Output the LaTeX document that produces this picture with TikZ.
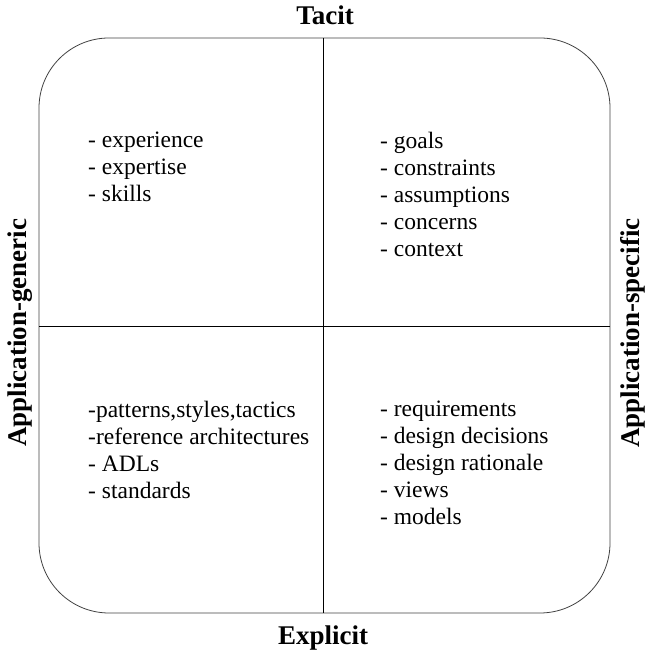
\documentclass[tikz,border=0pt]{standalone}
\usepackage{fontspec}
\setmainfont{Liberation Serif}
\begin{document}
\begin{tikzpicture}[x=1pt,y=1pt,
        item/.style={anchor=north west,align=left,inner sep=0pt,font=\fontsize{23.5}{27}\selectfont},
        axis/.style={font=\bfseries\fontsize{27}{30}\selectfont,inner sep=0pt}]
        \useasboundingbox (0,0) rectangle (648,653);
        
        % Overall box
        \draw[line width=0.8pt,black!75,rounded corners=70pt] (39,40) rectangle (610,615);
        
        % Quadrant dividers
        \coordinate (top) at (323,615);
        \coordinate (bottom) at (323,40);
        \coordinate (left) at (39,327);
        \coordinate (right) at (610,327);
        \draw[line width=0.7pt] (top) -- (bottom);
        \draw[line width=0.7pt] (left) -- (right);
        
        % Axis labels
        \node[axis] (tacit) at (325,638) {Tacit};
        \node[axis] (explicit) at (323,15) {Explicit};
        \node[axis,rotate=90] (generic) at (20,320) {Application-generic};
        \node[axis,rotate=90] (specific) at (633,320) {Application-specific};
        
        % Quadrant contents
        \node[item] (tl) at (88,521) {- experience\\- expertise\\- skills};
        \node[item] (tr) at (380,521) {- goals\\- constraints\\- assumptions\\- concerns\\- context};
        \node[item] (bl) at (88,252) {-patterns,styles,tactics\\-reference architectures\\- ADLs\\- standards};
        \node[item] (br) at (380,252) {- requirements\\- design decisions\\- design rationale\\- views\\- models};
\end{tikzpicture}
\end{document}
